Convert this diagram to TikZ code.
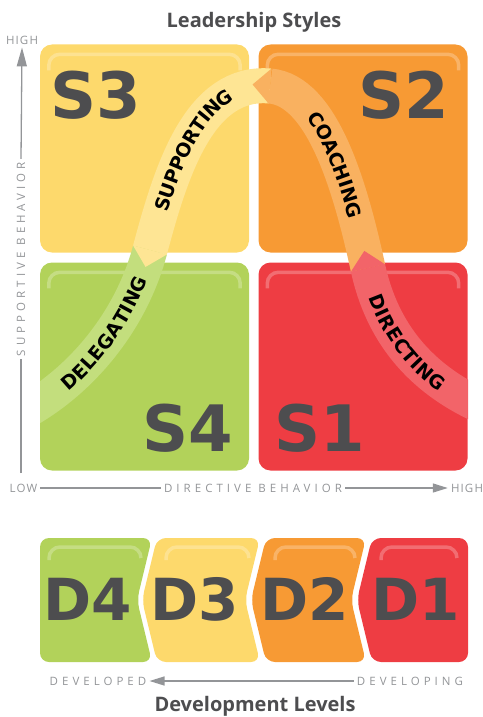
\documentclass[tikz,border=0pt]{standalone}
\usepackage{fontspec}
\setmainfont{Open Sans}
\newfontfamily\bigfont{DejaVu Sans}
\newfontfamily\spacedfont[LetterSpace=35]{Open Sans}
\newfontfamily\tickfont[LetterSpace=10]{Open Sans}
\newcommand\bandfont{\bigfont\bfseries\fontsize{19}{19}\selectfont}
\usepackage{tikz}
\usetikzlibrary{calc, arrows.meta, decorations.text, positioning}

\definecolor{boxyellow}{HTML}{FDD96C}
\definecolor{boxorange}{HTML}{F79A34}
\definecolor{boxgreen}{HTML}{B2D25A}
\definecolor{boxred}{HTML}{EE3D43}
\definecolor{bandyellow}{HTML}{FEE594}
\definecolor{bandorange}{HTML}{F9B160}
\definecolor{bandgreen}{HTML}{C3DE7D}
\definecolor{bandred}{HTML}{F26469}
\definecolor{darktext}{HTML}{4D4D4F}
\definecolor{axisgray}{HTML}{939598}

\begin{document}
\begin{tikzpicture}[x=1pt, y=-1pt,
  quad/.style={rounded corners=12pt, minimum width=209pt, minimum height=208pt, inner sep=0pt},
  dshape/.style={rounded corners=9pt},
  glow/.style={line width=3.5pt, rounded corners=11pt},
  band/.style={line width=35pt},
  bandlbl/.style={decorate, decoration={text along path, text align=center, raise=-7pt, text={|\bandfont|#1}}},
  bigtxt/.style={font=\bigfont\bfseries\fontsize{64}{64}\selectfont, text=darktext, inner sep=0pt},
  dtxt/.style={font=\bigfont\bfseries\fontsize{58}{58}\selectfont, text=darktext, inner sep=0pt},
  title/.style={font=\bfseries\fontsize{20}{20}\selectfont, text=darktext, inner sep=0pt},
  spaced/.style={font=\spacedfont\fontsize{11.5}{11.5}\selectfont, text=axisgray, inner sep=3pt},
  tick/.style={font=\tickfont\fontsize{11.5}{11.5}\selectfont, text=axisgray, inner sep=3pt},
  axis/.style={draw=axisgray, line width=1.3pt}]
\useasboundingbox (0,0) rectangle (482,717);

% quadrants
\node[quad, fill=boxyellow] (s3box) at (144.5,148.5) {};
\node[quad, fill=boxorange] (s2box) at (363,148.5) {};
\node[quad, fill=boxgreen] (s4box) at (144.5,366.5) {};
\node[quad, fill=boxred] (s1box) at (363,366.5) {};
\foreach \bx/\cl in {s3box/boxyellow, s2box/boxorange, s4box/boxgreen, s1box/boxred}
  \draw[glow, \cl!75!white] ($(\bx.north west)+(9,26)$) |- ($(\bx.north)+(0,10)$) -| ($(\bx.north east)+(-9,26)$);

% the curve
\coordinate (bd0) at (40,403);
\coordinate (bd1) at (150,250);
\coordinate (bd2) at (270,86);
\coordinate (bd3) at (368,268);
\coordinate (bd4) at (468,400);
\coordinate (cb1) at (171.6,168.4);
\coordinate (cc1) at (322,90.5);
\coordinate (cd1) at (382,332.6);
\begin{scope}
\clip (40,0) rectangle (468,717);
\draw[band, bandgreen, shorten <=-14pt] (bd0) .. controls (85,377) and (132,318) .. (bd1);
\draw[band, bandyellow] (bd1) .. controls (cb1) and (200,80) .. (bd2);
\fill[bandyellow] ($(bd1)!17.5pt!90:(cb1)$) -- ($(bd1)!-17.5pt!(cb1)$) -- ($(bd1)!17.5pt!-90:(cb1)$) -- cycle;
\draw[band, bandorange] (bd2) .. controls (cc1) and (350,185) .. (bd3);
\fill[bandorange] ($(bd2)!17.5pt!90:(cc1)$) -- ($(bd2)!-17.5pt!(cc1)$) -- ($(bd2)!17.5pt!-90:(cc1)$) -- cycle;
\draw[band, bandred, shorten >=-14pt] (bd3) .. controls (cd1) and (420,378) .. (bd4);
\fill[bandred] ($(bd3)!17.5pt!90:(cd1)$) -- ($(bd3)!-17.5pt!(cd1)$) -- ($(bd3)!17.5pt!-90:(cd1)$) -- cycle;
\end{scope}
\path[bandlbl=DELEGATING] (bd0) .. controls (85,377) and (132,318) .. (bd1);
\path[bandlbl=SUPPORTING] (bd1) .. controls (cb1) and (200,80) .. (bd2);
\path[bandlbl=COACHING] (bd2) .. controls (cc1) and (350,185) .. (bd3);
\path[bandlbl=DIRECTING] (bd3) .. controls (cd1) and (420,378) .. (bd4);

\node[bigtxt] (s3) at (96,95) {S3};
\node[bigtxt] (s2) at (404,95) {S2};
\node[bigtxt] (s4) at (188,428) {S4};
\node[bigtxt] (s1) at (320,428) {S1};

% axes
\node[title] (lstyles) at (254,22) {Leadership Styles};
\node[tick] (vhigh) at (22,40) {HIGH};
\coordinate (vorig) at (21,473);
\node[spaced, rotate=90] (suplbl) at (21,259) {SUPPORTIVE BEHAVIOR};
\draw[axis] (vorig) -- (suplbl.west);
\draw[axis, -{Triangle[length=19pt,width=10pt]}] (suplbl.east) -- (vhigh.south);
\node[tick] (hlow) at (23.5,488) {LOW};
\node[spaced] (dirlbl) at (253,488) {DIRECTIVE BEHAVIOR};
\node[tick] (hhigh) at (467,488) {HIGH};
\draw[axis] (hlow) -- (dirlbl);
\draw[axis, -{Triangle[length=15pt,width=9pt]}] (dirlbl) -- (hhigh);

% development levels
\fill[dshape, boxgreen] (40,538) -- (152,538) -- (137,600) -- (152,662) -- (40,662) -- cycle;
\fill[dshape, boxyellow] (157,538) -- (260,538) -- (245,600) -- (260,662) -- (157,662) -- (142,600) -- cycle;
\fill[dshape, boxorange] (266,538) -- (366,538) -- (351,600) -- (366,662) -- (266,662) -- (251,600) -- cycle;
\fill[dshape, boxred] (372,538) -- (468,538) -- (468,662) -- (372,662) -- (357,600) -- cycle;
\foreach \xl/\xr/\cl in {40/152/boxgreen, 157/260/boxyellow, 266/366/boxorange, 372/468/boxred}
  \draw[glow, \cl!75!white] (\xl+9,560) |- (\xl+30,547) -| (\xr-11,558);
\node[dtxt] (d4) at (88,599) {D4};
\node[dtxt] (d3) at (195,599) {D3};
\node[dtxt] (d2) at (305,599) {D2};
\node[dtxt] (d1) at (416,599) {D1};

\node[spaced] (devd) at (98,681) {DEVELOPED};
\node[spaced] (devg) at (410,681) {DEVELOPING};
\draw[axis, -{Triangle[length=15pt,width=9pt]}] (devg) -- (devd);
\node[title] (dlevels) at (255,706) {Development Levels};
\end{tikzpicture}
\end{document}
